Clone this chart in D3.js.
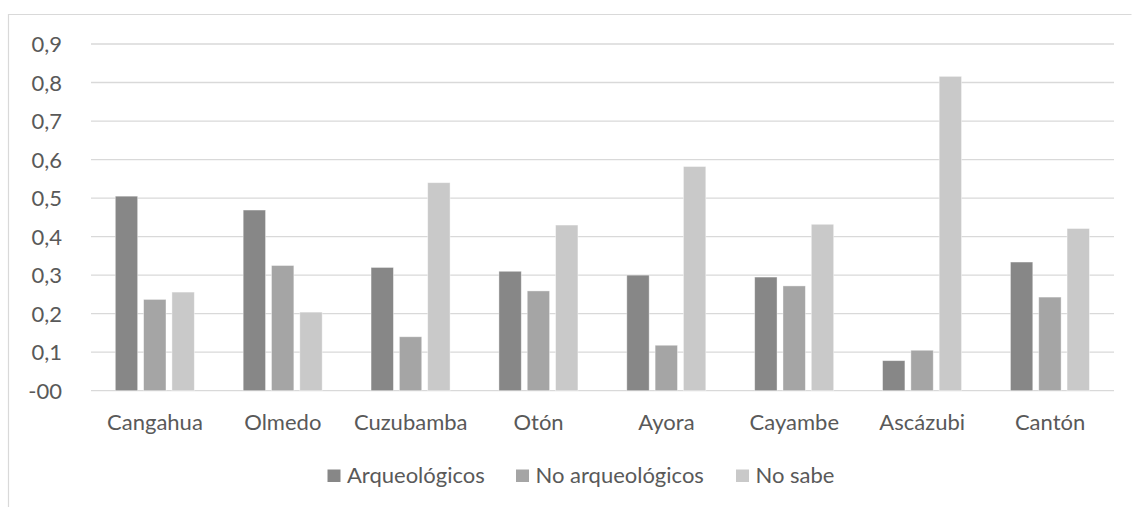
<!DOCTYPE html>
<html><head><meta charset="utf-8">
<script src="https://cdn.jsdelivr.net/npm/d3@7"></script>
<style>body{margin:0;background:#fff}svg{display:block}text{font-family:Lato,"Open Sans",sans-serif;fill:#595959}</style>
</head><body>
<svg id="c" width="1132" height="507"></svg>
<script>
const categories = ["Cangahua","Olmedo","Cuzubamba","Otón","Ayora","Cayambe","Ascázubi","Cantón"];
const seriesNames = ["Arqueológicos","No arqueológicos","No sabe"];
const arqueologicos = [0.505,0.469,0.32,0.31,0.30,0.295,0.078,0.334];
const noArqueologicos = [0.237,0.325,0.14,0.259,0.118,0.272,0.105,0.243];
const noSabe = [0.256,0.204,0.54,0.43,0.582,0.432,0.816,0.421];
const yTicks = [0,0.1,0.2,0.3,0.4,0.5,0.6,0.7,0.8,0.9];
const yTickLabels = ["-00","0,1","0,2","0,3","0,4","0,5","0,6","0,7","0,8","0,9"];
const colors = ["#878787","#a5a5a5","#c9c9c9"];

(function(){
const series = [arqueologicos, noArqueologicos, noSabe];
const svg = d3.select("#c");
const pLeft = 91, pRight = 1114, pTop = 44, pBottom = 390.7;
const fs = 22;

svg.append("path").attr("d","M8.5,507 V14.5 H1131.5").attr("fill","none").attr("stroke","#d9d9d9").attr("stroke-width",1.2);

const y = d3.scaleLinear().domain([0,0.9]).range([pBottom, pTop]);
const x0 = d3.scaleBand().domain(categories).range([pLeft,pRight]).paddingInner(0).paddingOuter(0);
const x1 = d3.scaleBand().domain(seriesNames).range([24.3, 24.3+79]).paddingInner(0.21).paddingOuter(0);

svg.append("g").selectAll("line").data(yTicks).join("line")
  .attr("x1",pLeft).attr("x2",pRight)
  .attr("y1",d=>y(d)).attr("y2",d=>y(d))
  .attr("stroke","#d9d9d9").attr("stroke-width",1.3);

const yAxis = d3.axisLeft(y).tickValues(yTicks).tickFormat((d,i)=>yTickLabels[i]).tickSize(0).tickPadding(0);
const ya = svg.append("g").attr("transform","translate(62,0)").call(yAxis);
ya.select(".domain").remove();
ya.selectAll("text").attr("font-size",fs).attr("font-family","Lato, sans-serif").attr("fill","#595959").attr("dy","0.35em");

const groups = svg.append("g").selectAll("g").data(categories).join("g")
  .attr("transform",d=>`translate(${x0(d)},0)`);
groups.selectAll("rect").data((d,i)=>series.map((s,j)=>({k:seriesNames[j],v:s[i],c:colors[j]}))).join("rect")
  .attr("x",d=>x1(d.k)).attr("width",x1.bandwidth())
  .attr("y",d=>y(d.v)).attr("height",d=>pBottom-y(d.v))
  .attr("fill",d=>d.c).attr("stroke","#ffffff").attr("stroke-opacity",0.5).attr("stroke-width",0.8);

const xAxis = d3.axisBottom(x0).tickSize(0).tickPadding(0);
const xa = svg.append("g").attr("transform",`translate(0,${pBottom+32})`).call(xAxis);
xa.select(".domain").remove();
xa.selectAll("text").attr("font-size",fs).attr("font-family","Lato, sans-serif").attr("fill","#595959").attr("dy","0.35em");

const legendX = [327.5, 516, 736];
const lg = svg.append("g").selectAll("g").data(seriesNames).join("g")
  .attr("transform",(d,i)=>`translate(${legendX[i]},469.5)`);
lg.append("rect").attr("width",13).attr("height",12.5).attr("fill",(d,i)=>colors[i]);
lg.append("text").attr("x",19.5).attr("y",6).attr("dy","0.35em").attr("font-size",fs).text(d=>d);
})();
</script>
</body></html>
